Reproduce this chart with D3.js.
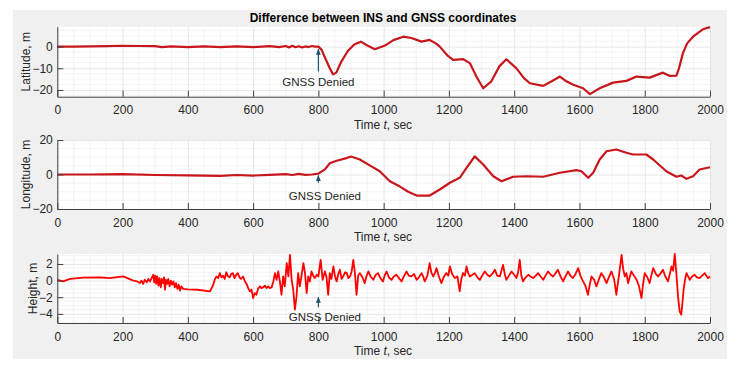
<!DOCTYPE html>
<html>
<head>
  <meta charset="utf-8">
  <title>Difference between INS and GNSS coordinates</title>
  <script src="https://d3js.org/d3.v7.min.js"></script>
  <style>
    body { margin: 0; background: #ffffff; }
    svg { display: block; font-family: "Liberation Sans", Arial, sans-serif; }
    .tick-label { font-size: 12px; fill: #262626; }
    .axis-label { font-size: 12px; fill: #262626; }
    .note { font-size: 11.5px; fill: #262626; }
  </style>
</head>
<body>
<div id="chart"></div>
<script>
// ---- data ----
var latT = [0, 50, 100, 150, 200, 250, 300, 320, 350, 400, 450, 500, 550, 600, 650, 680, 700, 710, 720, 730, 740, 750, 760, 770, 780, 790,
            800, 810, 820, 835, 845, 855, 870, 890, 910, 930, 950, 973, 1004, 1030, 1060, 1085, 1116, 1141, 1160, 1172, 1195, 1213,
            1244, 1264, 1285, 1305, 1330, 1355, 1376, 1407, 1430, 1448, 1489, 1515, 1540, 1560, 1581, 1611, 1632, 1662, 1703, 1744,
            1775, 1815, 1856, 1877, 1897, 1905, 1917, 1930, 1948, 1978, 2000];
var latV = [0, 0, 0.1, 0.2, 0.4, 0.3, 0.2, -0.2, 0.1, -0.2, 0.1, -0.2, 0.1, -0.2, 0.2, -0.2, 0.3, -0.4, 0.4, -0.3, 0.2, -0.4, 0.1, -0.2, 0.3, 0,
            0, -1.5, -5, -10, -12.8, -12, -7, -2, 1, 2.3, 0.5, -1.2, 0.5, 3, 4.6, 4, 2.3, 3.1, 1.5, 0, -4, -6.1,
            -5.8, -7.6, -14, -19.2, -16, -9, -5.8, -10, -14.5, -16.9, -18.1, -16, -13.8, -16, -17.6, -19.2, -21.9, -19.2, -16.6, -15.8,
            -13.8, -14.3, -12, -13.5, -13.4, -10, -3, 1.5, 4.6, 8, 9];

var lonT = [0, 100, 200, 300, 400, 500, 550, 600, 650, 700, 720, 740, 760, 780, 800, 820, 835, 856, 886, 900, 927, 960, 988, 1019,
            1050, 1075, 1101, 1141, 1172, 1203, 1233, 1254, 1279, 1305, 1336, 1361, 1397, 1438, 1489, 1540, 1591, 1606, 1627, 1642,
            1662, 1683, 1713, 1744, 1764, 1805, 1826, 1866, 1897, 1912, 1928, 1948, 1968, 2000];
var lonV = [0, 0, 0.2, -0.3, -0.5, -0.8, -0.3, -0.6, -0.2, 0.2, -0.3, 0.4, -0.2, 0, 0.5, 3, 6.5, 8, 9.5, 10.4, 8.7, 5, 1.9, -3.9,
            -7, -10, -12.2, -12.2, -8.7, -4.8, -1.9, 3.9, 10.5, 5.8, -1, -3.9, -1.3, -1, -1.3, 1, 2.5, 1.9, -1.9, 1,
            8.7, 13.5, 14.5, 12.6, 11.6, 11.6, 8.7, 1.9, -1.3, -0.6, -2.5, -1, 2.9, 4.2];

var hgtT = [0, 18, 39, 80, 131, 161, 202, 233, 245, 253,
            258, 263, 268, 274, 279, 284, 289, 294, 297, 300,
            303, 306, 310, 313, 317, 320, 324, 327, 330, 333,
            337, 340, 344, 348, 352, 356, 360, 364, 368, 372,
            376, 380, 386, 400, 430, 468, 478, 483, 488, 493,
            498, 503, 508, 513, 518, 523, 528, 533, 538, 543,
            548, 553, 558, 563, 569, 575, 580, 585, 590, 595,
            600, 605, 610, 615, 621, 626, 631, 636, 641, 646,
            651, 657, 662, 667, 672, 677, 682, 687, 692, 697,
            703, 708, 713, 718, 723, 728, 733, 738, 743, 748,
            754, 759, 764, 769, 774, 779, 784, 789, 795, 800,
            807, 813, 820, 825, 830, 835, 840, 846, 851, 856,
            861, 866, 871, 876, 882, 887, 892, 897, 902, 907,
            912, 917, 922, 927, 935, 942, 948, 953, 960, 968,
            976, 983, 990, 998, 1003, 1009, 1016, 1024, 1031, 1039,
            1047, 1055, 1062, 1070, 1077, 1085, 1093, 1101, 1108, 1116,
            1121, 1126, 1134, 1141, 1146, 1152, 1157, 1162, 1170, 1177,
            1185, 1192, 1198, 1203, 1210, 1218, 1226, 1233, 1238, 1243,
            1249, 1254, 1259, 1264, 1272, 1279, 1287, 1295, 1302, 1310,
            1318, 1325, 1333, 1341, 1348, 1356, 1361, 1366, 1371, 1376,
            1384, 1392, 1400, 1407, 1412, 1417, 1422, 1427, 1435, 1443,
            1450, 1458, 1466, 1473, 1481, 1489, 1496, 1504, 1512, 1519,
            1527, 1534, 1542, 1550, 1557, 1565, 1572, 1580, 1588, 1596,
            1603, 1611, 1618, 1626, 1632, 1637, 1645, 1652, 1660, 1667,
            1675, 1683, 1690, 1698, 1706, 1713, 1721, 1729, 1734, 1739,
            1744, 1749, 1754, 1759, 1767, 1775, 1782, 1790, 1795, 1800,
            1808, 1815, 1820, 1826, 1834, 1841, 1849, 1856, 1863, 1871,
            1877, 1882, 1887, 1892, 1897, 1902, 1907, 1912, 1916, 1919,
            1924, 1928, 1933, 1938, 1945, 1953, 1960, 1968, 1976, 1984,
            1990, 1994, 2000];
var hgtV = [0.1, -0.1, 0.2, 0.35, 0.4, 0.3, 0.5, 0, -0.1, -0.3,
            0, -0.4, 0.1, -0.2, 0.2, -0.1, 0.3, 0.7, -0.2, 0.6,
            -0.4, 0.5, -0.6, 0.3, -0.8, 0.2, -0.3, 0.4, -1.1, 0.1,
            -0.4, 0.2, -0.7, 0, -0.5, -0.1, -0.8, -0.3, -1.0, -0.5,
            -1.2, -0.7, -1.0, -1.05, -1.1, -1.3, -0.5, 0.2, 0.5, 0.3,
            0.9, 0.4, 0.6, 0.2, 1.0, 0.5, 0.4, 0.8, 0.9, 0.3,
            0.7, 0.9, 0.4, 0.2, 0.5, -0.1, -0.4, -0.9, -1.3, -1.1,
            -2.1, -1.5, -1.7, -1.0, -0.7, -0.9, -0.8, -0.6, -0.9, -0.7,
            -0.9, -0.8, -0.1, 0.9, 0.1, 1.1, -0.1, -1.7, 0.5, -0.7,
            2.1, 0.5, 3.1, 0.1, -1.1, -3.5, -1.9, 0.9, -0.7, 0.5,
            2.1, 0.9, -1.5, 0.5, -0.1, 1.1, 0.6, 0.3, 0.7, 0.5,
            2.5, 0.1, 1.1, 0.4, -1.7, 0.9, 0.2, 1.7, 0.5, -0.1,
            0.8, 1.3, 0.2, 0.5, 1.0, 0.9, 0.3, 0.5, 1.1, 2.5,
            0.9, -1.7, 0.6, 0.9, 0.4, -0.3, 0.6, 1.1, 0.5, 0.1,
            0.7, 0.9, 0.3, -0.1, 0.6, 1.1, 0.4, 0.1, 0.5, 0.7,
            0.3, -0.1, 0.5, 1.1, 0.6, 0.5, 0.8, 0.1, 0.4, 0.9,
            0.5, -0.1, 0.6, 2.1, 1.0, 0.5, 0.9, 1.5, 0.4, -0.3,
            0.5, 0.9, 0.6, 1.7, 0.8, 0.3, 0.5, -1.3, 0.2, 0.9,
            0.6, 1.7, 0.9, 0.5, 0.7, 0.9, 0.4, 0.1, 0.6, 1.1,
            0.7, 0.5, 0.8, 1.3, 0.6, 0.5, 1.2, 1.9, 0.8, 0.1,
            0.6, 1.1, 0.7, 0.3, 1.0, 2.5, 0.6, -0.1, 0.4, 0.7,
            0.5, 0.3, 0.6, 0.9, 0.5, 0.1, 0.6, 1.1, 0.7, 0.5,
            0.9, 1.3, 0.5, -0.1, 0.5, 1.1, 0.6, 0.3, 0.8, 1.5,
            0.6, -0.1, -0.6, -1.7, -0.4, 0.5, 0.1, -0.7, 0.2, 0.9,
            0.4, -0.3, 0.4, 1.1, 0.2, -1.7, 0.6, 3.1, 1.4, 0.5,
            0.9, -0.3, 0.4, 1.1, 0.6, 0.1, -0.6, -2.1, -0.4, 0.9,
            0.4, -0.3, 0.6, 1.5, 0.8, 0.5, 0.9, 1.3, 0.5, -0.1,
            0.8, 1.7, 1.2, 3.2, 0.8, -1.9, -3.7, -4.1, -2.5, -1.1,
            0.2, 0.9, 0.5, 0.1, 0.5, 0.7, 0.4, 0.3, 0.6, 0.9,
            0.5, 0.3, 0.5];

var xTicks = [0, 200, 400, 600, 800, 1000, 1200, 1400, 1600, 1800, 2000];
var latTicks = [-20, -10, 0];
var lonTicks = [-20, 0, 20];
var hgtTicks = [-4, -2, 0, 2];

var panelLabels = ["Latitude, m", "Longitude, m", "Height, m"];
var noteText = "GNSS Denied";
var titleText = "Difference between INS and GNSS coordinates";

// ---- layout ----
var W = 737, H = 366;
var svg = d3.select("#chart").append("svg").attr("width", W).attr("height", H);

svg.append("rect").attr("x", 13).attr("y", 10).attr("width", 714).attr("height", 349).attr("fill", "#f0f0f0");

var x = d3.scaleLinear().domain([0, 2000]).range([57.3, 710]);

var panels = [
  { t: latT, v: latV, dom: [-23.1, 9.2], top: 26.7, bot: 96.7, ticks: latTicks, minor: 2.5, color: "#c8161d", width: 2.2,
    label: panelLabels[0], labX: 30, arrow: [-11.5, -1.2], noteY: -18.1, noteT: 800 },
  { t: lonT, v: lonV, dom: [-20, 20], top: 140, bot: 209, ticks: lonTicks, minor: 5, color: "#c8161d", width: 2.2,
    label: panelLabels[1], labX: 30, arrow: [-4.8, -0.6], noteY: -14.5, noteT: 820 },
  { t: hgtT, v: hgtV, dom: [-5.1, 3.2], top: 254, bot: 323, ticks: hgtTicks, minor: 0.5, color: "#ff0000", width: 1.8,
    label: panelLabels[2], labX: 37, arrow: [-3.2, -2], noteY: -4.9, noteT: 820 }
];

svg.append("defs").append("marker")
  .attr("id", "head").attr("viewBox", "0 0 10 10").attr("refX", 9).attr("refY", 5)
  .attr("markerWidth", 5).attr("markerHeight", 5).attr("orient", "auto")
  .append("path").attr("d", "M0,1 L10,5 L0,9 z").attr("fill", "#1f4e6e");

panels.forEach(function(p) {
  var y = d3.scaleLinear().domain(p.dom).range([p.bot, p.top]);
  var g = svg.append("g");

  g.append("rect").attr("x", x(0)).attr("y", p.top).attr("width", x(2000) - x(0)).attr("height", p.bot - p.top)
    .attr("fill", "#ffffff");

  // minor grid
  var xm = d3.range(0, 2001, 50).filter(function(d) { return d % 200 !== 0; });
  var ym = d3.range(Math.ceil(p.dom[0] / p.minor) * p.minor, p.dom[1], p.minor)
    .filter(function(d) { return p.ticks.indexOf(+d.toFixed(3)) < 0; });
  g.selectAll(".xm").data(xm).enter().append("line")
    .attr("x1", function(d) { return x(d); }).attr("x2", function(d) { return x(d); })
    .attr("y1", p.top).attr("y2", p.bot).attr("stroke", "#ececec").attr("stroke-width", 0.6);
  g.selectAll(".ym").data(ym).enter().append("line")
    .attr("y1", function(d) { return y(d); }).attr("y2", function(d) { return y(d); })
    .attr("x1", x(0)).attr("x2", x(2000)).attr("stroke", "#ececec").attr("stroke-width", 0.6);

  // major grid
  g.append("g").attr("transform", "translate(0," + p.bot + ")")
    .call(d3.axisBottom(x).tickValues(xTicks).tickSize(-(p.bot - p.top)).tickFormat(""))
    .call(function(a) { a.select(".domain").remove(); a.selectAll("line").attr("stroke", "#dcdcdc").attr("stroke-width", 0.7); });
  g.append("g").attr("transform", "translate(" + x(0) + ",0)")
    .call(d3.axisLeft(y).tickValues(p.ticks).tickSize(-(x(2000) - x(0))).tickFormat(""))
    .call(function(a) { a.select(".domain").remove(); a.selectAll("line").attr("stroke", "#dcdcdc").attr("stroke-width", 0.7); });

  // data line
  var pts = p.t.map(function(t, i) { return [t, p.v[i]]; });
  g.append("path").datum(pts)
    .attr("fill", "none").attr("stroke", p.color).attr("stroke-width", p.width).attr("stroke-linejoin", "round")
    .attr("d", d3.line().x(function(d) { return x(d[0]); }).y(function(d) { return y(d[1]); }));

  // axes
  var xa = g.append("g").attr("transform", "translate(0," + p.bot + ")")
    .call(d3.axisBottom(x).tickValues(xTicks).tickFormat(d3.format("d")).tickSizeInner(-6).tickSizeOuter(0).tickPadding(9));
  xa.select(".domain").attr("stroke", "#404040");
  xa.selectAll("line").attr("stroke", "#404040");
  xa.selectAll("text").attr("class", "tick-label").attr("font-size", null).attr("font-family", null);

  var ya = g.append("g").attr("transform", "translate(" + x(0) + ",0)")
    .call(d3.axisLeft(y).tickValues(p.ticks).tickSizeInner(-6).tickSizeOuter(0).tickPadding(4.5));
  ya.select(".domain").attr("stroke", "#404040");
  ya.selectAll("line").attr("stroke", "#404040");
  ya.selectAll("text").attr("class", "tick-label").attr("font-size", null).attr("font-family", null);

  // labels
  g.append("text").attr("class", "axis-label")
    .attr("transform", "translate(" + p.labX + "," + ((p.top + p.bot) / 2) + ") rotate(-90)")
    .attr("text-anchor", "middle").text(p.label);

  var tl = g.append("text").attr("class", "axis-label").attr("x", 383).attr("y", p.bot + 32)
    .attr("text-anchor", "middle");
  tl.append("tspan").text("Time  ");
  tl.append("tspan").attr("font-style", "italic").text("t");
  tl.append("tspan").text(", sec");

  // annotation
  g.append("line").attr("x1", x(800)).attr("x2", x(800))
    .attr("y1", y(p.arrow[0])).attr("y2", y(p.arrow[1]))
    .attr("stroke", "#1f4e6e").attr("stroke-width", 1.2).attr("marker-end", "url(#head)");
  g.append("text").attr("class", "note").attr("x", x(p.noteT)).attr("y", y(p.noteY))
    .attr("text-anchor", "middle").text(noteText);
});

svg.append("text").attr("x", 383).attr("y", 22).attr("text-anchor", "middle")
  .attr("font-weight", "bold").attr("font-size", 12).attr("fill", "#000").text(titleText);
</script>
</body>
</html>
